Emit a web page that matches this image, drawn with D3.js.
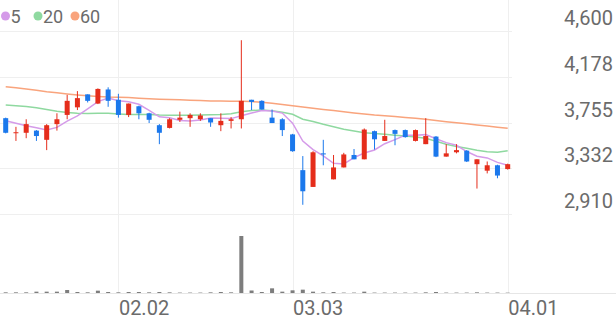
<!DOCTYPE html>
<html><head><meta charset="utf-8">
<script src="https://cdn.jsdelivr.net/npm/d3@7"></script>
<style>
html,body{margin:0;padding:0;background:#fff;}
svg{display:block;font-family:Roboto,"Noto Sans",sans-serif;}
</style></head>
<body>
<svg id="chart" width="616" height="321"></svg>
<script>
const dates = ["01.16","01.19","01.20","01.21","01.22","01.23","01.26","01.27","01.28","01.29",
"01.30","02.02","02.03","02.04","02.05","02.06","02.09","02.10","02.11","02.12",
"02.13","02.19","02.20","02.23","02.24","02.25","02.26","02.27","03.03","03.04",
"03.05","03.06","03.09","03.10","03.11","03.12","03.13","03.16","03.17","03.18",
"03.19","03.20","03.23","03.24","03.25","03.26","03.27","03.30","03.31","04.01"];
const open = [3795,3660,3660,3680,3595,3740,3825,3895,4015,3930,
4060,3965,3825,3905,3840,3730,3705,3780,3795,3785,
3795,3730,3770,3785,3965,3955,3800,3785,3645,3315,
3160,3470,3230,3340,3455,3415,3675,3585,3685,3685,
3585,3555,3625,3440,3480,3495,3370,3310,3360,3325];
const high = [3800,3715,3785,3685,3740,3840,4010,4045,4015,4070,
4080,4020,3930,3910,3845,3740,3795,3855,3840,3840,
3795,3840,3805,4515,3965,3960,3875,3795,3650,3445,
3490,3595,3455,3475,3510,3700,3680,3780,3690,3690,
3690,3795,3630,3555,3555,3500,3415,3395,3365,3375];
const low = [3655,3585,3610,3585,3500,3680,3785,3870,3940,3925,
3900,3800,3805,3785,3750,3555,3700,3760,3715,3770,
3715,3675,3700,3700,3870,3875,3750,3630,3485,2995,
3160,3360,3230,3340,3415,3415,3505,3585,3545,3615,
3580,3555,3435,3440,3470,3390,3145,3285,3240,3320];
const close = [3660,3665,3740,3630,3730,3785,3955,3980,3955,4065,
3955,3825,3930,3840,3780,3660,3785,3800,3825,3820,
3755,3770,3785,3955,3945,3875,3750,3685,3490,3120,
3480,3460,3340,3460,3415,3690,3600,3630,3650,3620,
3685,3630,3440,3470,3500,3395,3415,3360,3265,3370];
const volume = [40,40,40,80,80,80,180,60,40,140,
60,40,60,60,40,60,40,25,25,25,
40,60,40,3420,150,60,280,80,160,200,
80,40,60,25,25,80,25,25,25,25,
25,40,60,25,25,25,40,25,25,20];
const ma5 = [3772,3748,3725,3707,3685,3710,3768,3816,3881,3948,
3982,3956,3946,3923,3866,3807,3799,3773,3770,3778,
3797,3794,3791,3817,3842,3866,3862,3842,3749,3584,
3505,3447,3378,3372,3431,3473,3501,3559,3597,3638,
3637,3643,3605,3569,3545,3487,3444,3428,3387,3361];
const ma20 = [3917,3909,3902,3891,3875,3858,3847,3841,3839,3841,
3840,3834,3828,3829,3828,3824,3823,3822,3822,3824,
3826,3828,3835,3854,3865,3870,3863,3849,3831,3785,
3764,3738,3715,3692,3677,3661,3654,3646,3638,3630,
3621,3609,3582,3554,3534,3517,3499,3485,3480,3495];
const ma60 = [4086,4075,4064,4052,4039,4029,4018,4009,4001,3995,
3990,3988,3985,3979,3974,3970,3967,3965,3961,3958,
3954,3953,3951,3952,3948,3942,3933,3921,3909,3898,
3886,3875,3865,3854,3843,3834,3824,3817,3810,3801,
3794,3784,3774,3763,3753,3743,3732,3723,3712,3701];
const yTicks = [4600,4178,3755,3332,2910];
const xTicks = ["02.02","03.03","04.01"];
const maNames = ["5","20","60"];
const maColors = ["#d59be9","#8fd9a0","#f9a47d"];

const UP = "#e52d1b", DOWN = "#1b78ec", VOL = "#7d7d7d", TXT = "#6b6b6b";
const svg = d3.select("#chart");
const x = d3.scalePoint().domain(dates).range([5.7, 507.7]);
const y = d3.scaleLinear().domain([2910, 4600]).range([214, 31]);
const yv = d3.scaleLinear().domain([0, d3.max(volume)]).range([293, 236]);

// horizontal grid
svg.append("g").selectAll("line").data(yTicks).join("line")
  .attr("x1", 0).attr("x2", 512)
  .attr("y1", d => Math.round(y(d)) + 0.5).attr("y2", d => Math.round(y(d)) + 0.5)
  .attr("stroke", "#efefef").attr("stroke-width", 1);
// vertical grid
svg.append("g").selectAll("line").data(xTicks).join("line")
  .attr("x1", d => Math.round(x(d)) + 0.5).attr("x2", d => Math.round(x(d)) + 0.5)
  .attr("y1", 0).attr("y2", 293)
  .attr("stroke", "#efefef").attr("stroke-width", 1);
// volume baseline
svg.append("line").attr("x1", 0).attr("x2", 616).attr("y1", 293.5).attr("y2", 293.5)
  .attr("stroke", "#e6e6e6");

// y axis
const yAxis = svg.append("g").attr("transform", "translate(613,0)")
  .call(d3.axisLeft(y).tickValues(yTicks).tickSize(0).tickPadding(0).tickFormat(d3.format(",")));
yAxis.select(".domain").remove();
yAxis.selectAll("text").attr("dy", -6.5).attr("x", 0)
  .attr("fill", TXT).style("font-size", "20px").style("font-family", "Roboto");

// x axis
const xAxis = svg.append("g").attr("transform", "translate(0,315)")
  .call(d3.axisBottom(x).tickValues(xTicks).tickSize(0).tickPadding(0));
xAxis.select(".domain").remove();
xAxis.selectAll("text").attr("y", 0).attr("dy", 0).attr("text-anchor", "start")
  .attr("fill", TXT).style("font-size", "20px").style("font-family", "Roboto");

// MA lines
const series = [ma5, ma20, ma60];
series.slice().reverse().forEach((s, k) => {
  const idx = 2 - k;
  svg.append("path").datum(s)
    .attr("d", d3.line().x((d, i) => x(dates[i])).y(d => y(d)))
    .attr("fill", "none").attr("stroke", maColors[idx]).attr("stroke-width", 1.5);
});

// volume bars
svg.append("g").selectAll("rect").data(volume).join("rect")
  .attr("x", (d, i) => x(dates[i]) - 2)
  .attr("width", 4)
  .attr("y", d => yv(d))
  .attr("height", d => 293 - yv(d))
  .attr("fill", VOL);

// candles
const idx = d3.range(dates.length);
const cg = svg.append("g");
cg.selectAll("line").data(idx).join("line")
  .attr("x1", i => x(dates[i])).attr("x2", i => x(dates[i]))
  .attr("y1", i => y(high[i])).attr("y2", i => y(low[i]))
  .attr("stroke", i => close[i] >= open[i] ? UP : DOWN).attr("stroke-width", 1);
cg.selectAll("rect").data(idx).join("rect")
  .attr("x", i => x(dates[i]) - 2.5).attr("width", 5)
  .attr("y", i => y(Math.max(open[i], close[i])))
  .attr("height", i => Math.max(1, Math.abs(y(open[i]) - y(close[i]))))
  .attr("fill", i => close[i] >= open[i] ? UP : DOWN);

// legend
const lg = svg.append("g");
const legX = [5.5, 38, 75];
maNames.forEach((n, k) => {
  lg.append("circle").attr("cx", legX[k]).attr("cy", 16).attr("r", 4.5).attr("fill", maColors[k]);
  lg.append("text").attr("x", legX[k] + 5).attr("y", 22.5).text(n)
    .attr("fill", TXT).style("font-size", "18px").style("font-family", "Roboto");
});
</script>
</body></html>
